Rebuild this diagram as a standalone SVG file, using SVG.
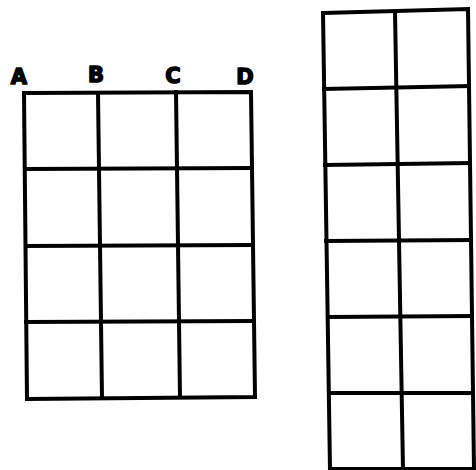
<svg xmlns="http://www.w3.org/2000/svg" width="476" height="470" viewBox="0 0 476 470">
<style>
.g{fill:none;stroke:#000;stroke-width:4;stroke-linecap:square;stroke-linejoin:miter}
.l{font-family:"DejaVu Sans",sans-serif;font-weight:bold;font-size:21px;fill:#000;stroke:#000;stroke-width:1.5;stroke-linejoin:round}
</style>
<rect width="476" height="470" fill="#fff"/>
<g id="labels">
<text class="l" x="19" y="84" text-anchor="middle">A</text>
<text class="l" x="96" y="82" text-anchor="middle">B</text>
<text class="l" x="173" y="83" text-anchor="middle">C</text>
<text class="l" x="245" y="84" text-anchor="middle">D</text>
</g>
<g id="left-grid">
<path class="g" d="M24 93 L251 92 L255 397 L27 399 Z"/>
<path class="g" d="M98 93 L102 398"/>
<path class="g" d="M176 92 L180 397"/>
<path class="g" d="M25 169 L252 168"/>
<path class="g" d="M26 246 L253 245"/>
<path class="g" d="M26 322 L254 321"/>
</g>
<g id="right-grid">
<path class="g" d="M323 13 L468 9 L474 469 L330 469 Z"/>
<path class="g" d="M395 12 L403 469"/>
<path class="g" d="M324 89 L469 86"/>
<path class="g" d="M325 165 L470 163"/>
<path class="g" d="M326 241 L471 240"/>
<path class="g" d="M328 317 L472 316"/>
<path class="g" d="M329 393 L473 393"/>
</g>
</svg>
